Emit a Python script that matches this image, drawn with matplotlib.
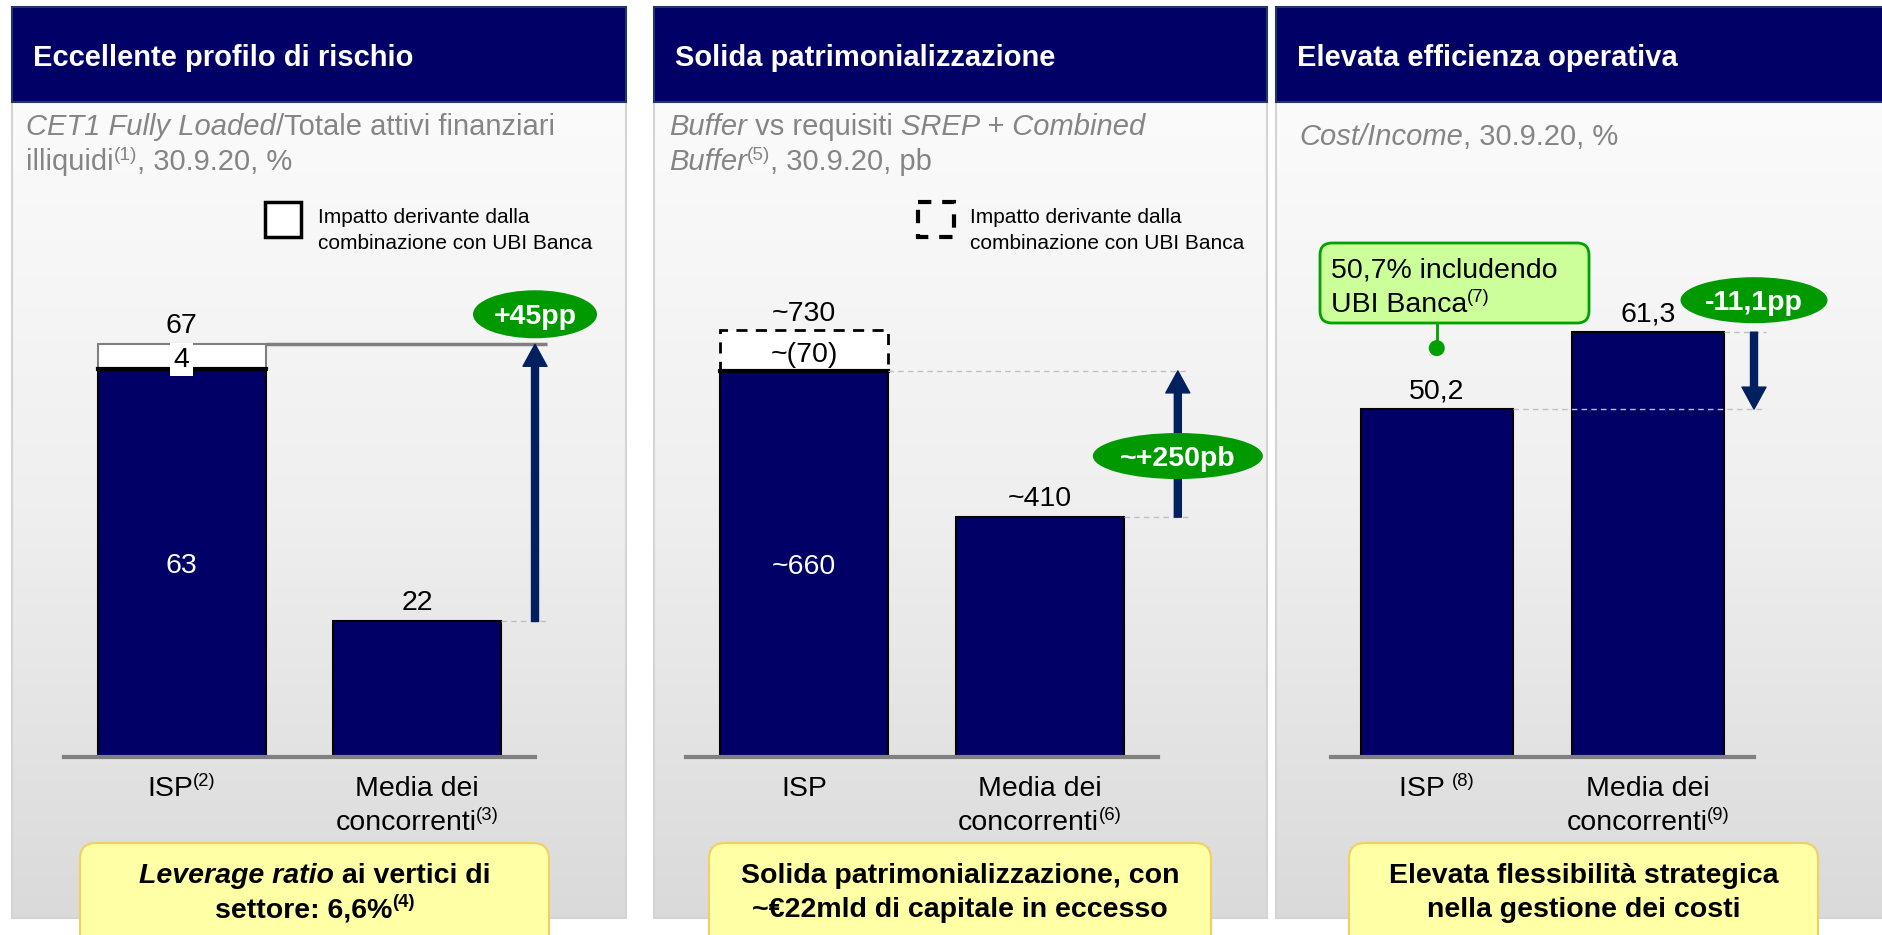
import numpy as np
import matplotlib.pyplot as plt
from matplotlib.colors import LinearSegmentedColormap
from matplotlib.patches import Rectangle, FancyBboxPatch, Ellipse, Circle

plt.rcParams['font.family'] = ['Liberation Sans', 'DejaVu Sans']

W, H = 1883, 935
PT = 0.72          # points per pixel at dpi=100
FS = 20.5          # main text size

NAVY = '#000066'
ARROW = '#002060'
GREEN = '#009900'
SUBGRAY = '#858585'
GUIDE = '#c0c0c0'

# ---------------- data ----------------
headers = ['Eccellente profilo di rischio',
           'Solida patrimonializzazione',
           'Elevata efficienza operativa']

# CET1 FL / illiquid financial assets, %
p1_labels = ['ISP', 'Media dei\nconcorrenti']
p1_notes = ['(2)', '(3)']
p1_values = [63, 22]
p1_ubi = 4

# buffer vs SREP + combined buffer, bp
p2_labels = ['ISP', 'Media dei\nconcorrenti']
p2_notes = ['', '(6)']
p2_values = [660, 410]
p2_ubi = 70

# cost/income, %
p3_labels = ['ISP ', 'Media dei\nconcorrenti']
p3_notes = ['(8)', '(9)']
p3_values = [50.2, 61.3]
p3_with_ubi = 50.7

subtitles = [
    [[('CET1 Fully Loaded', 'i'), ('/Totale attivi finanziari', '')],
     [('illiquidi', ''), ('(1)', 's'), (', 30.9.20, %', '')]],
    [[('Buffer', 'i'), (' vs requisiti ', ''), ('SREP + Combined', 'i')],
     [('Buffer', 'i'), ('(5)', 's'), (', 30.9.20, pb', '')]],
    [[('Cost/Income', 'i'), (', 30.9.20, %', '')]],
]
legend_text = ['Impatto derivante dalla', 'combinazione con UBI Banca']
boxes = [
    [[('Leverage ratio', 'bi'), (' ai vertici di', 'b')],
     [('settore: 6,6%', 'b'), ('(4)', 'bs')]],
    [[('Solida patrimonializzazione, con', 'b')],
     [('~€22mld di capitale in eccesso', 'b')]],
    [[('Elevata flessibilità strategica', 'b')],
     [('nella gestione dei costi', 'b')]],
]

# ---------------- layout ----------------
panels_x = [(12, 626), (654, 1267), (1276, 1895)]
axes_x = [(64, 535), (686, 1158), (1331, 1754)]
ppu = [6.16, 0.585, 6.93]
bar_w = [0.713, 0.713, 0.72]
BASE, TOP = 757, 110

fig = plt.figure(figsize=(W / 100, H / 100), dpi=100)
bg = fig.add_axes([0, 0, 1, 1], zorder=0)
fg = fig.add_axes([0, 0, 1, 1], zorder=5)


def fmt(v):
    return f'{v:.1f}'.replace('.', ',')


def base(cy, size=FS):
    return cy + 0.358 * size / PT


def tw(s, **kw):
    r = fig.canvas.get_renderer()
    a = fg.text(0, 0, '|' + s + '|', **kw)
    b = fg.text(0, 0, '||', **kw)
    w = a.get_window_extent(r).width - b.get_window_extent(r).width
    a.remove()
    b.remove()
    return w


def rich(x, y, parts, size=FS, ha='left', color='black'):
    em = size / PT
    items = []
    for s, st in parts:
        kw = dict(fontsize=size, color=color,
                  fontweight='bold' if 'b' in st else 'normal',
                  fontstyle='italic' if 'i' in st else 'normal')
        dy = 0.0
        if 's' in st:
            kw['fontsize'] = size * 0.65
            dy = -0.36 * em
        items.append((s, kw, dy, tw(s, **kw)))
    total = sum(it[3] for it in items)
    cur = x - total / 2 if ha == 'center' else x
    for s, kw, dy, w in items:
        fg.text(cur, y + dy, s, ha='left', va='baseline', **kw)
        cur += w


def to_px(ax, x, y):
    dx, dy = ax.transData.transform((x, y))
    return dx, H - dy


def bar_axes(i):
    x0, x1 = axes_x[i]
    ax = fig.add_axes([x0 / W, (H - BASE) / H, (x1 - x0) / W, (BASE - TOP) / H], zorder=2)
    ax.set_xlim(-0.5, 1.5)
    ax.set_ylim(0, (BASE - TOP) / ppu[i])
    ax.patch.set_visible(False)
    for s in ['top', 'left', 'right']:
        ax.spines[s].set_visible(False)
    ax.spines['bottom'].set_color('#808080')
    ax.spines['bottom'].set_linewidth(3)
    ax.set_xticks([])
    ax.set_yticks([])
    return ax


def above(ax, x, y, s, gap=11):
    ax.annotate(s, (x, y), xytext=(0, gap * PT), textcoords='offset points',
                ha='center', va='baseline', fontsize=FS, annotation_clip=False)


def inside(ax, x, y, s, color='white', dy=-10.2, **kw):
    ax.annotate(s, (x, y), xytext=(0, dy * PT), textcoords='offset points',
                ha='center', va='baseline', fontsize=FS, color=color,
                annotation_clip=False, **kw)


def arrow(ax, x, y_from, y_to):
    ax.annotate('', xy=(x, y_to), xytext=(x, y_from),
                arrowprops=dict(width=7 * PT, headwidth=24 * PT, headlength=22 * PT,
                                color=ARROW, shrink=0),
                annotation_clip=False)


def guide(ax, x0, x1, y, solid=False):
    if solid:
        ax.plot([x0, x1], [y, y], color='#7f7f7f', lw=2.5, clip_on=False, solid_capstyle='butt')
    else:
        ax.plot([x0, x1], [y, y], color=GUIDE, lw=1, ls=(0, (4, 3)), clip_on=False)


def pill(cx, cy, w, h, s):
    fg.add_patch(Ellipse((cx, cy), w, h, fc=GREEN, ec='none'))
    rich(cx, base(cy, 20.5), [(s, 'b')], size=20.5, ha='center', color='white')


def cat_labels(ax, labels, notes):
    for i, (lab, note) in enumerate(zip(labels, notes)):
        cx = to_px(ax, i, 0)[0]
        lines = lab.split('\n')
        ys = [786] if len(lines) == 1 else [786, 820]
        for j, (ln, yy) in enumerate(zip(lines, ys)):
            parts = [(ln, '')]
            if j == len(lines) - 1 and note:
                parts.append((note, 's'))
            rich(cx, base(yy), parts, ha='center')


# ---------------- panel backgrounds ----------------
cmap = LinearSegmentedColormap.from_list('panel', ['#fbfbfb', '#efefef', '#dadada'])
grad = np.linspace(0, 1, 256).reshape(-1, 1)
for k, (x0, x1) in enumerate(panels_x):
    bg.imshow(grad, cmap=cmap, extent=(x0, x1, 918, 102), aspect='auto', zorder=0)
    bg.add_patch(Rectangle((x0, 102), x1 - x0, 816, fill=False, ec='#d4d4d4', lw=1.5, zorder=1))
    bg.add_patch(Rectangle((x0, 7), x1 - x0, 95, fc=NAVY, ec='#1f3864', lw=1.5, zorder=2))
    fg.text(x0 + 21, base(56, 21), headers[k], color='white', fontsize=21,
            fontweight='bold', va='baseline')

sub_x = [26, 669, 1299]
for k, lines in enumerate(subtitles):
    ys = [125, 160] if len(lines) == 2 else [135]
    for parts, yy in zip(lines, ys):
        rich(sub_x[k], base(yy, 21), parts, size=21, color=SUBGRAY)

# legends
fg.add_patch(Rectangle((265, 202), 36, 35, fc='white', ec='black', lw=2.5))
fg.add_patch(Rectangle((918, 202), 36, 35, fill=False, ec='black', lw=3, ls=(0, (3.2, 2.6))))
for lx in (318, 970):
    for ln, yy in zip(legend_text, [216, 242]):
        fg.text(lx, base(yy, 15), ln, fontsize=15, va='baseline')

# ---------------- panel 1 ----------------
ax1 = bar_axes(0)
x = np.arange(2)
w = bar_w[0]
ax1.bar(x, p1_values, width=w, color=NAVY, edgecolor='black', lw=1.5)
ax1.bar(0, p1_ubi, bottom=p1_values[0], width=w, color='white', edgecolor='#7f7f7f', lw=1.5)
ax1.plot([-w / 2, w / 2], [p1_values[0]] * 2, color='black', lw=3)
top1 = p1_values[0] + p1_ubi
above(ax1, 0, top1, f'{top1}')
inside(ax1, 0, p1_values[0] + p1_ubi / 2, f'{p1_ubi}', color='black',
       bbox=dict(fc='white', ec='none', boxstyle='square,pad=0.12'))
inside(ax1, 0, p1_values[0] / 2, f'{p1_values[0]}')
above(ax1, 1, p1_values[1], f'{p1_values[1]}')
guide(ax1, w / 2, 1.55, top1, solid=True)
guide(ax1, 1 + w / 2, 1.55, p1_values[1])
arrow(ax1, 1.5, p1_values[1], top1)
cx, cy = to_px(ax1, 1.5, top1)
pill(cx, cy - 30, 124, 48, f'+{top1 - p1_values[1]}pp')
cat_labels(ax1, p1_labels, p1_notes)

# ---------------- panel 2 ----------------
ax2 = bar_axes(1)
w = bar_w[1]
ax2.bar(x, p2_values, width=w, color=NAVY, edgecolor='black', lw=1.5)
ax2.bar(0, p2_ubi, bottom=p2_values[0], width=w, color='white', edgecolor='black',
        lw=2, ls=(0, (4, 3)))
ax2.plot([-w / 2, w / 2], [p2_values[0]] * 2, color='black', lw=3)
top2 = p2_values[0] + p2_ubi
above(ax2, 0, top2, f'~{top2}', gap=9)
inside(ax2, 0, p2_values[0] + p2_ubi / 2, f'~({p2_ubi})', color='black', dy=-12)
inside(ax2, 0, p2_values[0] / 2, f'~{p2_values[0]}')
above(ax2, 1, p2_values[1], f'~{p2_values[1]}')
guide(ax2, w / 2, 1.626, p2_values[0])
guide(ax2, 1 + w / 2, 1.626, p2_values[1])
arrow(ax2, 1.584, p2_values[1], p2_values[0])
cx, cy = to_px(ax2, 1.584, (p2_values[0] + p2_values[1]) / 2)
pill(cx, cy + 12, 170, 46, f'~+{p2_values[0] - p2_values[1]}pb')
cat_labels(ax2, p2_labels, p2_notes)

# ---------------- panel 3 ----------------
ax3 = bar_axes(2)
w = bar_w[2]
ax3.bar(x, p3_values, width=w, color=NAVY, edgecolor='black', lw=1.5)
for i, v in enumerate(p3_values):
    above(ax3, i, v, fmt(v))
guide(ax3, w / 2, 1.556, p3_values[0])
guide(ax3, 1 + w / 2, 1.556, p3_values[1])
arrow(ax3, 1.5, p3_values[1], p3_values[0])
cx, cy = to_px(ax3, 1.5, p3_values[1])
pill(cx, cy - 32, 147, 46, fmt(p3_values[0] - p3_values[1]) + 'pp')
cat_labels(ax3, p3_labels, p3_notes)

# callout "including UBI"
dx, dy = to_px(ax3, 0, p3_values[0])
fg.add_patch(FancyBboxPatch((1320, 243), 269, 80, boxstyle='round,pad=0,rounding_size=12',
                            fc='#ccff99', ec='#00a000', lw=2, zorder=3))
fg.plot([dx, dx], [323, dy - 61], color='#00a000', lw=2, zorder=3)
fg.add_patch(Circle((dx, dy - 61), 8, fc='#00a000', ec='none', zorder=3))
rich(1331, base(267), [(f'{fmt(p3_with_ubi)}% includendo', '')])
rich(1331, base(302), [('UBI Banca', ''), ('(7)', 's')])

# ---------------- yellow boxes ----------------
box_x = [(80, 549), (709, 1211), (1349, 1818)]
for (x0, x1), lines in zip(box_x, boxes):
    fg.add_patch(FancyBboxPatch((x0, 843), x1 - x0, 120, boxstyle='round,pad=0,rounding_size=16',
                                fc='#ffffa5', ec='#f0d060', lw=1.5, zorder=3))
    for parts, yy in zip(lines, [873, 907]):
        rich((x0 + x1) / 2, base(yy), parts, ha='center')

for a in (bg, fg):
    a.set_xlim(0, W)
    a.set_ylim(H, 0)
    a.axis('off')

fig.savefig('out.png', dpi=100)
